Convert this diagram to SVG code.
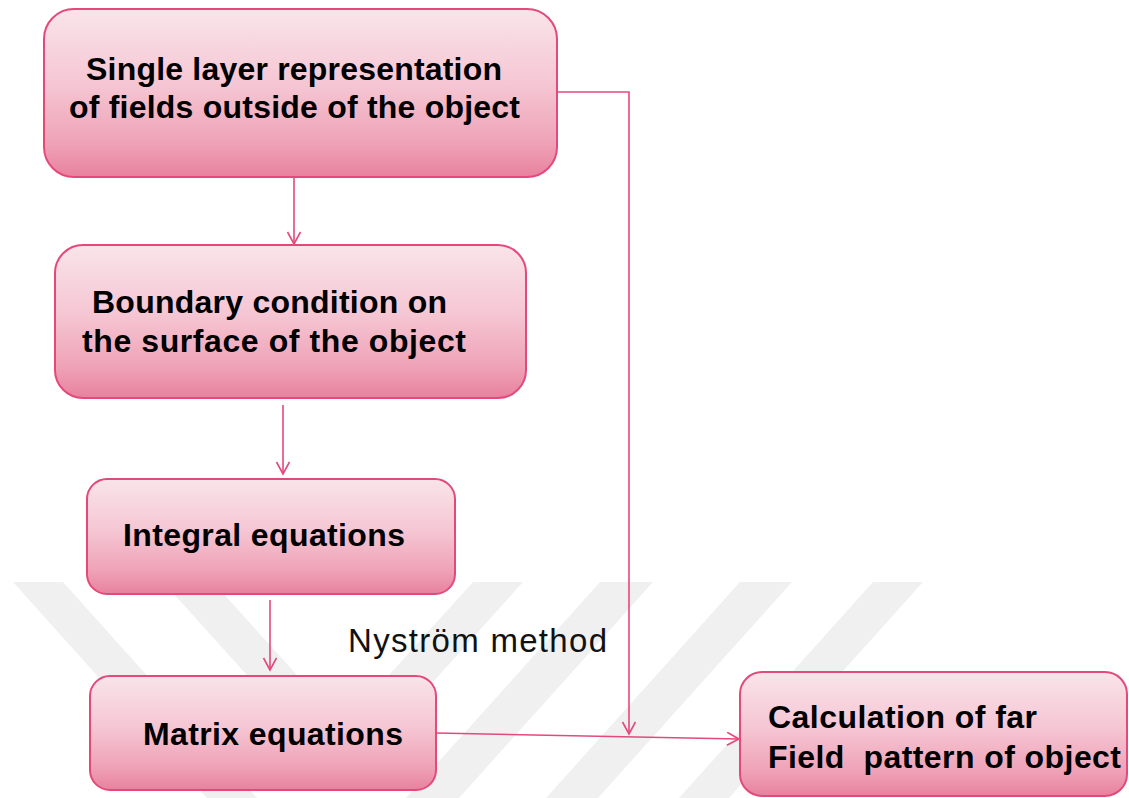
<svg xmlns="http://www.w3.org/2000/svg" width="1129" height="798" viewBox="0 0 1129 798">
  <defs>
    <linearGradient id="boxFill" x1="0" y1="0" x2="0" y2="1">
      <stop offset="0" stop-color="#f9e4ea"/>
      <stop offset="0.45" stop-color="#f5c6d3"/>
      <stop offset="0.8" stop-color="#efa2b7"/>
      <stop offset="1" stop-color="#e8819e"/>
    </linearGradient>
    <marker id="arrow" markerUnits="userSpaceOnUse" markerWidth="16" markerHeight="16" refX="13" refY="7" orient="auto">
      <path d="M1,0.5 L13,7 L1,13.5" fill="none" stroke="#e4497c" stroke-width="1.6"/>
    </marker>
    <style>
      .box { fill: url(#boxFill); stroke: #e4497c; stroke-width: 2; }
      .lbl { font-family: "Liberation Sans", Arial, sans-serif; font-weight: bold; font-size: 32px; fill: #000; }
      .note { font-family: "Liberation Sans", Arial, sans-serif; font-size: 33px; fill: #111; }
      .conn { fill: none; stroke: #e4497c; stroke-width: 1.6; }
      .wm { fill: #f0f0f0; }
    </style>
  </defs>

  <rect width="1129" height="798" fill="#ffffff"/>

  <g id="watermark">
    <polygon class="wm" points="13,582 63,582 257,798 207,798"/>
    <polygon class="wm" points="163,582 213,582 343,726 473,582 523,582 343,782"/>
    <polygon class="wm" points="600,582 653,582 459,798 406,798"/>
    <polygon class="wm" points="740,582 792,582 598,798 546,798"/>
    <polygon class="wm" points="873,582 923,582 729,798 679,798"/>
  </g>

  <g id="connectors">
    <line class="conn" x1="294" y1="177" x2="294" y2="244" marker-end="url(#arrow)"/>
    <path class="conn" d="M557,92 H629 V734" marker-end="url(#arrow)"/>
    <line class="conn" x1="283" y1="405" x2="283" y2="474" marker-end="url(#arrow)"/>
    <line class="conn" x1="270" y1="600" x2="270" y2="670" marker-end="url(#arrow)"/>
    <line class="conn" x1="436" y1="733" x2="739" y2="739" marker-end="url(#arrow)"/>
  </g>

  <g id="node-single-layer">
    <rect class="box" x="44" y="9" width="513" height="168" rx="30" ry="30"/>
    <text class="lbl" x="86" y="80" textLength="416">Single layer representation</text>
    <text class="lbl" x="69" y="118" textLength="451">of fields outside of the object</text>
  </g>

  <g id="node-boundary">
    <rect class="box" x="55" y="245" width="471" height="153" rx="28" ry="28"/>
    <text class="lbl" x="92" y="313" textLength="355">Boundary condition on</text>
    <text class="lbl" x="82" y="352" textLength="384">the surface of the object</text>
  </g>

  <g id="node-integral">
    <rect class="box" x="87" y="479" width="368" height="115" rx="20" ry="20"/>
    <text class="lbl" x="123" y="546" textLength="282">Integral equations</text>
  </g>

  <g id="node-matrix">
    <rect class="box" x="90" y="676" width="346" height="114" rx="20" ry="20"/>
    <text class="lbl" x="143" y="745" textLength="260">Matrix equations</text>
  </g>

  <g id="node-far-field">
    <rect class="box" x="740" y="672" width="387" height="124" rx="22" ry="22"/>
    <text class="lbl" x="768" y="728" textLength="269">Calculation of far</text>
    <text class="lbl" x="768" y="768" textLength="353" xml:space="preserve">Field  pattern of object</text>
  </g>

  <g id="label-nystrom">
    <text class="note" x="348" y="652" textLength="259">Nyström method</text>
  </g>
</svg>
